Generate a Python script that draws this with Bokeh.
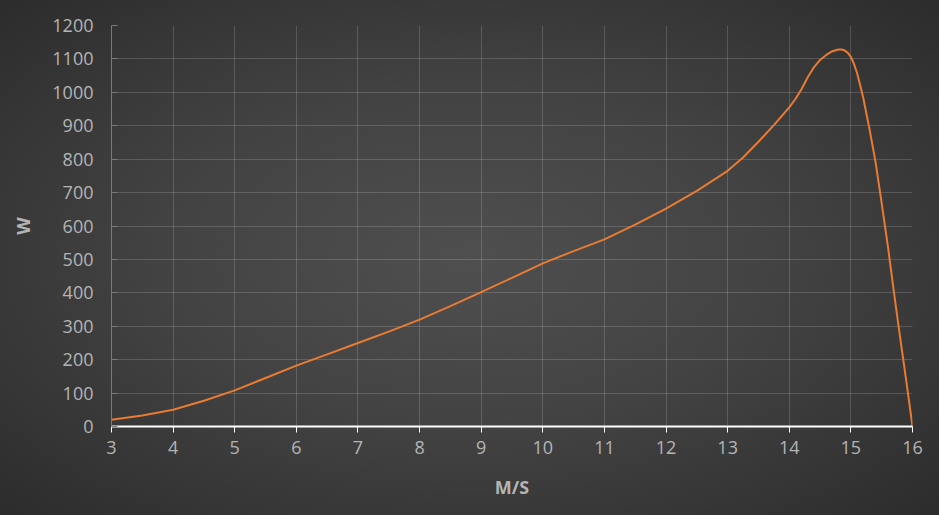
from bokeh.plotting import figure
from bokeh.models import FixedTicker, ColumnDataSource, Range1d
from bokeh.embed import file_html
from bokeh.resources import INLINE

# data (speed m/s -> power W)
speed = [3, 3.5, 4, 4.5, 5, 5.5, 6, 6.5, 7, 7.5, 8, 8.5, 9, 9.5, 10, 10.5, 11, 11.5,
         12, 12.5, 13, 13.25, 13.5, 13.75, 14, 14.1, 14.2, 14.3, 14.4, 14.5, 14.6, 14.7,
         14.8, 14.85, 14.9, 14.95, 15.0, 15.05, 15.1, 15.15, 15.2, 15.3, 15.4, 15.5, 15.6,
         15.7, 15.8, 15.9, 16]
power = [20, 33, 50, 77, 108, 145, 182, 216, 250, 284, 320, 360, 402, 445, 488, 525,
         560, 604, 652, 705, 765, 805, 852, 902, 955, 980, 1010, 1045, 1075, 1097, 1112,
         1123, 1128, 1128, 1125, 1118, 1106, 1085, 1058, 1022, 984, 892, 792, 668, 540,
         400, 265, 135, 0]
x_ticks = list(range(3, 17))
y_ticks = list(range(0, 1300, 100))

src = ColumnDataSource(dict(x=speed, y=power))

p = figure(width=939, height=515, output_backend="svg", toolbar_location=None,
           x_range=Range1d(3, 16), y_range=Range1d(0, 1200),
           min_border_left=111, min_border_right=27, min_border_top=25, min_border_bottom=89,
           styles={"background": "radial-gradient(ellipse at 50% 50%, #4f4f4f 0%, #434343 45%, #2c2c2c 100%)"})
p.border_fill_alpha = 0
p.background_fill_alpha = 0
p.outline_line_color = None

p.line("x", "y", source=src, line_color="#E97B33", line_width=2, line_join="round")

p.xaxis.ticker = FixedTicker(ticks=x_ticks)
p.yaxis.ticker = FixedTicker(ticks=y_ticks)

for ax in (p.xaxis[0], p.yaxis[0]):
    ax.major_label_text_font = "Open Sans"
    ax.major_label_text_font_size = "18px"
    ax.major_label_text_color = "#b4b4b4"
    ax.minor_tick_line_color = None
    ax.axis_label_text_font = "Open Sans"
    ax.axis_label_text_font_size = "18px"
    ax.axis_label_text_font_style = "bold"
    ax.axis_label_text_color = "#b4b4b4"

p.xaxis.axis_label = "M/S"
p.xaxis.axis_line_color = "#ffffff"
p.xaxis.axis_line_width = 2
p.xaxis.major_tick_line_color = "#ffffff"
p.xaxis.major_tick_out = 6
p.xaxis.major_tick_in = 0
p.xaxis.major_label_standoff = 8
p.xaxis.axis_label_standoff = 18

p.yaxis.axis_label = "W"
p.yaxis.axis_line_color = "#7a7a7a"
p.yaxis.major_tick_line_color = "#7a7a7a"
p.yaxis.major_tick_out = 0
p.yaxis.major_tick_in = 6
p.yaxis.major_label_standoff = 18
p.yaxis.axis_label_standoff = 14

p.xgrid.grid_line_color = "#ffffff"
p.xgrid.grid_line_alpha = 0.16
p.ygrid.grid_line_color = "#ffffff"
p.ygrid.grid_line_alpha = 0.16

open("out.html", "w").write(file_html(p, INLINE))
